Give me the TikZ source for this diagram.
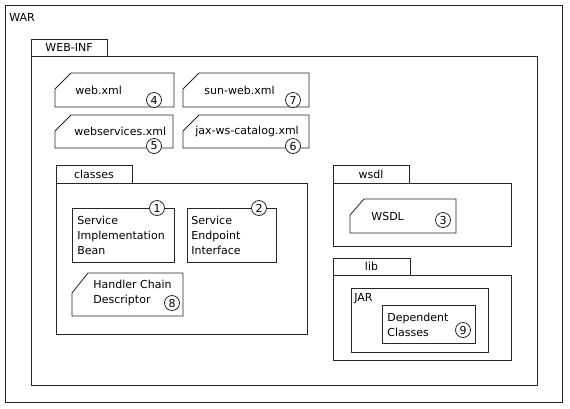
\documentclass[tikz,border=0pt]{standalone}
\usepackage{fontspec}
\setmainfont{DejaVu Sans}
\begin{document}
\begin{tikzpicture}[x=1pt,y=-1pt, line width=0.8pt, draw=black!85,
  box/.style={draw=black!85, anchor=north west, inner sep=0pt, outer sep=0pt},
  lbl/.style={font=\fontsize{11}{15}\selectfont, inner sep=0pt, text=black},
  badge/.style={circle, draw=black!85, fill=white, inner sep=0pt, minimum size=15pt, font=\fontsize{11}{13}\selectfont},
  doc/.style={draw=black!85, fill=white}]
\useasboundingbox (0,0) rectangle (570,408);
% WAR
\node[box, minimum width=557pt, minimum height=397pt] (war) at (5,5) {};
\node[lbl, anchor=west] (warlbl) at (9,17) {WAR};
% WEB-INF
\node[box, minimum width=76pt, minimum height=17pt] (webinftab) at (31,39) {};
\node[box, minimum width=506pt, minimum height=329pt] (webinf) at (31,56) {};
\node[lbl] (webinflbl) at (webinftab.center) {WEB-INF};
% descriptor files
\draw[doc] (55,89) -- (71,73) -- (174,73) -- (174,107) -- (55,107) -- cycle;
\node[lbl, anchor=west] (webxml) at (75,90) {web.xml};
\node[badge] (b4) at (154,100) {4};
\draw[doc] (183,89) -- (199,73) -- (309,73) -- (309,107) -- (183,107) -- cycle;
\node[lbl, anchor=west] (sunweb) at (204,90) {sun-web.xml};
\node[badge] (b7) at (293,100) {7};
\draw[doc] (55,131) -- (71,115) -- (173,115) -- (173,148) -- (55,148) -- cycle;
\node[lbl, anchor=west] (wsxml) at (74,131) {webservices.xml};
\node[badge] (b5) at (154,146) {5};
\draw[doc] (183,131) -- (199,115) -- (309,115) -- (309,148) -- (183,148) -- cycle;
\node[lbl, anchor=west] (jaxws) at (195,131) {jax-ws-catalog.xml};
\node[badge] (b6) at (293,146) {6};
% classes
\node[box, minimum width=76pt, minimum height=18pt] (classestab) at (56,165) {};
\node[box, minimum width=251pt, minimum height=151pt] (classes) at (56,183) {};
\node[lbl] (classeslbl) at (classestab.center) {classes};
\node[box, minimum width=102pt, minimum height=54pt] (sib) at (72,208) {};
\node[lbl, anchor=north west, align=left] (sibtxt) at (77,215.5) {Service\\Implementation\\Bean};
\node[badge] (b1) at (157,208) {1};
\node[box, minimum width=89pt, minimum height=54pt] (sei) at (187,208) {};
\node[lbl, anchor=north west, align=left] (seitxt) at (191,215.5) {Service\\Endpoint\\Interface};
\node[badge] (b2) at (259,208) {2};
\draw[doc] (72,293) -- (88,273) -- (183,273) -- (183,316) -- (72,316) -- cycle;
\node[lbl, anchor=north west, align=left] (hcd) at (93,279.5) {Handler Chain\\Descriptor};
\node[badge] (b8) at (172,303) {8};
% wsdl
\node[box, minimum width=76pt, minimum height=18pt] (wsdltab) at (333,165) {};
\node[box, minimum width=178pt, minimum height=63pt] (wsdlbox) at (333,183) {};
\node[lbl] (wsdllbl) at (wsdltab.center) {wsdl};
\draw[doc] (350,215) -- (364,199) -- (456,199) -- (456,233) -- (350,233) -- cycle;
\node[lbl, anchor=west] (wsdltxt) at (371,216) {WSDL};
\node[badge] (b3) at (443,220) {3};
% lib
\node[box, minimum width=77pt, minimum height=17pt] (libtab) at (333,258) {};
\node[box, minimum width=178pt, minimum height=85pt] (lib) at (333,275) {};
\node[lbl] (liblbl) at (libtab.center) {lib};
\node[box, minimum width=137pt, minimum height=64pt] (jar) at (351,288) {};
\node[lbl, anchor=west] (jarlbl) at (354,299) {JAR};
\node[box, minimum width=93pt, minimum height=38pt] (dep) at (382,305) {};
\node[lbl, anchor=north west, align=left] (deptxt) at (387,312.5) {Dependent\\Classes};
\node[badge] (b9) at (463,330) {9};
\end{tikzpicture}
\end{document}
